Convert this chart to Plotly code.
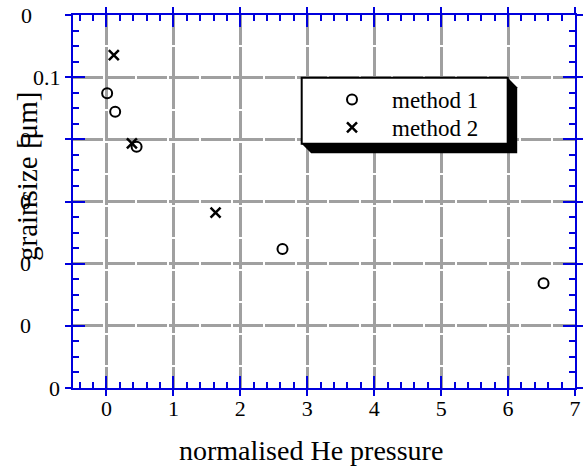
import plotly.graph_objects as go

# ---- data ----
method1_x = [0.01, 0.13, 0.45, 2.63, 6.53]
method1_y = [0.0948, 0.0889, 0.0776, 0.0447, 0.0337]
method2_x = [0.11, 0.38, 1.63]
method2_y = [0.1071, 0.0787, 0.0564]
series_names = ["method 1", "method 2"]
x_tickvals = [0, 1, 2, 3, 4, 5, 6, 7]
y_tickvals = [0.12, 0.10, 0.08, 0.06, 0.04, 0.02, 0.0]
y_ticktext = ["0", "0.1", "0", "0", "0", "0", "0"]
x_title = "normalised He pressure"
y_title = "grainsize [μm]"

# ---- layout constants (screen pixels) ----
W, H = 583, 473
PL, PR, PT, PB = 73, 575, 15, 388
PW, PH = PR - PL, PB - PT
BLUE = "#0000dd"
FONT = "Liberation Serif"


def fx(px):
    return (px - PL) / PW


def fy(py):
    return (PB - py) / PH


fig = go.Figure()
fig.add_trace(go.Scatter(
    x=method1_x, y=method1_y, mode="markers", name=series_names[0], legend="legend",
    marker=dict(symbol="circle-open", size=10, color="black", line=dict(width=2, color="black")),
))
fig.add_trace(go.Scatter(
    x=method2_x, y=method2_y, mode="markers", name=series_names[1], legend="legend2",
    marker=dict(symbol="x-thin-open", size=10, color="black", line=dict(width=2.5, color="black")),
))
# empty trace to activate the overlay axes (outer tick halves)
fig.add_trace(go.Scatter(x=[], y=[], xaxis="x2", yaxis="y2", showlegend=False, hoverinfo="skip"))

common_grid = dict(showgrid=True, gridcolor="#a0a0a0", gridwidth=3, griddash="30px,2px")
leg_common = dict(xanchor="left", yanchor="top", bgcolor="rgba(0,0,0,0)", borderwidth=0,
                  itemwidth=70, font=dict(family=FONT, size=23, color="black"))

fig.update_layout(
    width=W, height=H,
    margin=dict(l=PL, r=W - PR, t=PT, b=H - PB, autoexpand=False),
    paper_bgcolor="white", plot_bgcolor="white",
    font=dict(family=FONT, color="black", size=22),
    showlegend=True,
    xaxis=dict(
        range=[-0.5, 7], tickmode="array", tickvals=x_tickvals, automargin=False,
        ticks="inside", ticklen=12, tickwidth=2, tickcolor=BLUE,
        showline=True, linecolor=BLUE, linewidth=2, mirror="allticks",
        minor=dict(dtick=0.2, tick0=0, ticks="inside", ticklen=6, tickwidth=2, tickcolor=BLUE, showgrid=False),
        zeroline=False, tickfont=dict(family=FONT, size=22, color="black"),
        **common_grid,
    ),
    yaxis=dict(
        range=[0, 0.12], tickmode="array", tickvals=y_tickvals, automargin=False,
        showticklabels=False,
        ticks="inside", ticklen=12, tickwidth=2, tickcolor=BLUE,
        showline=True, linecolor=BLUE, linewidth=2, mirror="allticks",
        minor=dict(dtick=0.005, tick0=0, ticks="inside", ticklen=6, tickwidth=2, tickcolor=BLUE, showgrid=False),
        zeroline=False,
        **common_grid,
    ),
    xaxis2=dict(
        overlaying="x", anchor="y2", range=[-0.5, 7], tickmode="array", tickvals=x_tickvals,
        automargin=False,
        ticks="outside", ticklen=6, tickwidth=2, tickcolor=BLUE, showticklabels=False,
        showline=True, linecolor=BLUE, linewidth=2, mirror="allticks",
        showgrid=False, zeroline=False,
    ),
    yaxis2=dict(
        overlaying="y", anchor="x2", range=[0, 0.12], tickmode="array", tickvals=y_tickvals,
        automargin=False,
        ticks="outside", ticklen=6, tickwidth=2, tickcolor=BLUE, showticklabels=False,
        showline=True, linecolor=BLUE, linewidth=2, mirror="allticks",
        showgrid=False, zeroline=False,
    ),
    legend=dict(x=fx(312), y=fy(78), **leg_common),
    legend2=dict(x=fx(312), y=fy(106), **leg_common),
)

# legend frame with 3D shadow
bx0, bx1, by0, by1, sh = 301.7, 507.7, 77.7, 143.7, 9.5
shadow_path = (f"M {fx(bx1)} {fy(by0)} L {fx(bx1 + sh)} {fy(by0 + sh)} L {fx(bx1 + sh)} {fy(by1 + sh)} "
               f"L {fx(bx0 + sh)} {fy(by1 + sh)} L {fx(bx0)} {fy(by1)} Z")
fig.add_shape(type="path", xref="paper", yref="paper", path=shadow_path,
              fillcolor="black", line=dict(width=0), layer="above")
fig.add_shape(type="rect", xref="paper", yref="paper",
              x0=fx(bx0), x1=fx(bx1), y0=fy(by1), y1=fy(by0),
              fillcolor="white", line=dict(color="black", width=2), layer="above")

# y tick labels (placed as in the original)
label_centers = {0: ("center", 26.5), 1: ("right", 63), 2: ("center", 25.5), 3: ("center", 25.5),
                 4: ("center", 25.5), 5: ("center", 25.5), 6: ("right", 62)}
for i, (v, t) in enumerate(zip(y_tickvals, y_ticktext)):
    anchor, px = label_centers[i]
    fig.add_annotation(x=fx(px), xref="paper", y=v, yref="y", text=t, showarrow=False,
                       xanchor=anchor, yanchor="middle", font=dict(family=FONT, size=22, color="black"))

# axis titles
fig.add_annotation(x=fx(310.5), y=fy(451), xref="paper", yref="paper", text=x_title, showarrow=False,
                   xanchor="center", yanchor="middle", font=dict(family=FONT, size=28, color="black"))
fig.add_annotation(x=fx(27), y=fy(177), xref="paper", yref="paper", text=y_title, showarrow=False,
                   textangle=-90, xanchor="center", yanchor="middle",
                   font=dict(family=FONT, size=29, color="black"))

fig.write_html("out.html", config={"displayModeBar": False},
               post_script="document.body.style.margin='0px';")
